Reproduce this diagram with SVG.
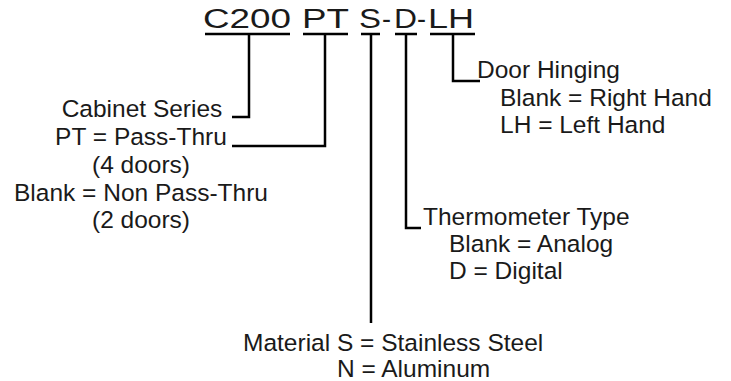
<svg xmlns="http://www.w3.org/2000/svg" width="731" height="381" viewBox="0 0 731 381">
<style>
text{font-family:"Liberation Sans",Arial,sans-serif;fill:#1a1a1a}
.t{font-size:27px}
.b{font-size:24.5px}
.m{text-anchor:middle}
.ln{fill:none;stroke:#000;stroke-width:2.5}
</style>
<rect width="731" height="381" fill="#fff"/>
<g id="title">
<text class="t" x="203" y="28" textLength="88" lengthAdjust="spacingAndGlyphs">C200</text>
<text class="t" x="302" y="28" textLength="47" lengthAdjust="spacingAndGlyphs">PT</text>
<text class="t" x="359" y="28" textLength="22" lengthAdjust="spacingAndGlyphs">S</text>
<text class="t" x="382" y="28" textLength="9" lengthAdjust="spacingAndGlyphs">-</text>
<text class="t" x="394" y="28" textLength="23" lengthAdjust="spacingAndGlyphs">D</text>
<text class="t" x="417" y="28" textLength="9" lengthAdjust="spacingAndGlyphs">-</text>
<text class="t" x="428" y="28" textLength="46" lengthAdjust="spacingAndGlyphs">LH</text>
<path class="ln" d="M205,34H290M303,34H348M361,34H380M395,34H417M430,34H475"/>
</g>
<g id="connectors">
<path class="ln" d="M249,34V117H232"/>
<path class="ln" d="M325,34V146H232"/>
<path class="ln" d="M371,34V323"/>
<path class="ln" d="M406,34V228H421"/>
<path class="ln" d="M453,34V81H480"/>
</g>
<g id="cabinet-series">
<text class="b m" x="142" y="117">Cabinet Series</text>
<text class="b m" x="141" y="145">PT = Pass-Thru</text>
<text class="b m" x="141" y="173">(4 doors)</text>
<text class="b m" x="141" y="201">Blank = Non Pass-Thru</text>
<text class="b m" x="141" y="228">(2 doors)</text>
</g>
<g id="door-hinging">
<text class="b" x="477" y="78">Door Hinging</text>
<text class="b" x="500" y="106">Blank = Right Hand</text>
<text class="b" x="500" y="133">LH = Left Hand</text>
</g>
<g id="thermometer-type">
<text class="b" x="423" y="225">Thermometer Type</text>
<text class="b" x="449" y="252">Blank = Analog</text>
<text class="b" x="449" y="279">D = Digital</text>
</g>
<g id="material">
<text class="b" x="243" y="351">Material S = Stainless Steel</text>
<text class="b" x="337" y="377">N = Aluminum</text>
</g>
</svg>
